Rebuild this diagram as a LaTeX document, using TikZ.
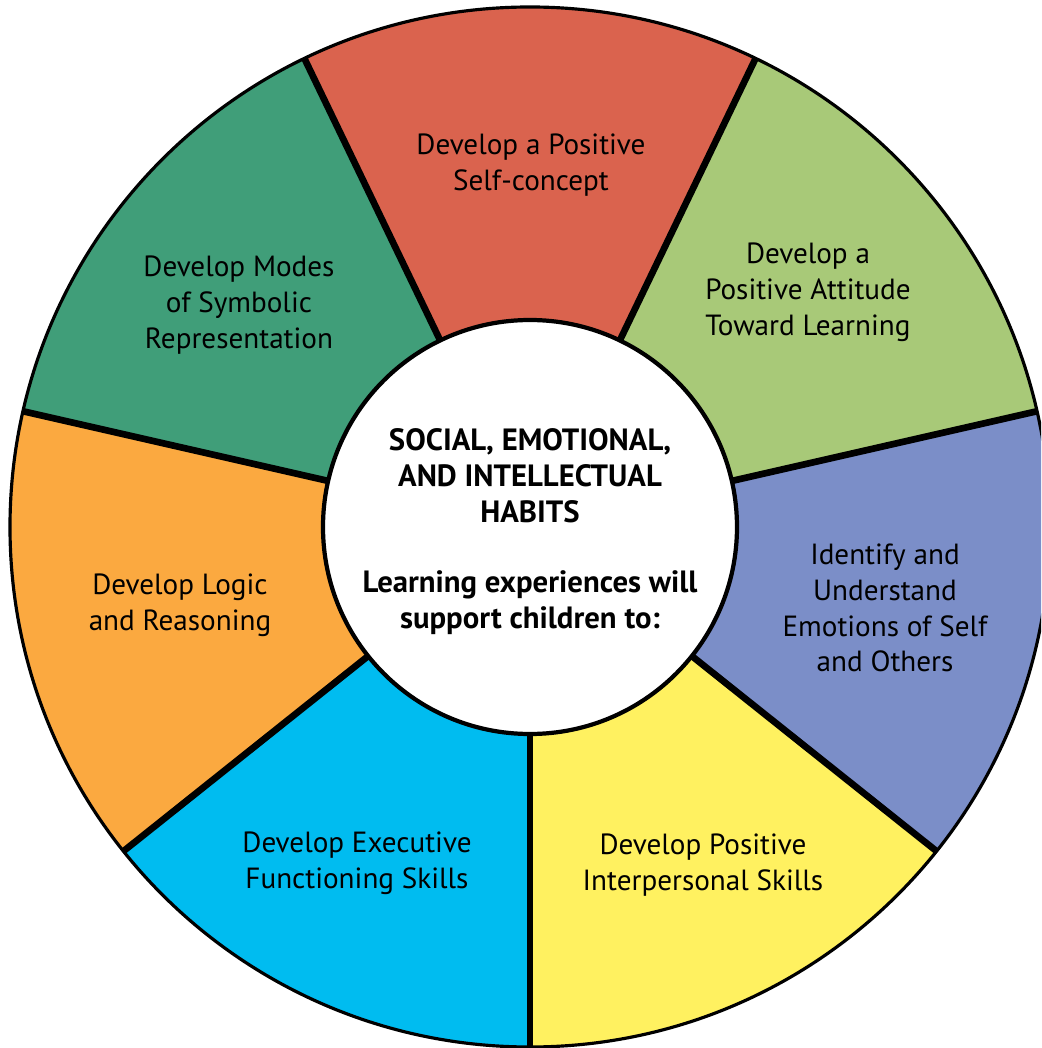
\documentclass[tikz,border=0pt]{standalone}
\usepackage{fontspec}
\setmainfont{PT Sans}
\usepackage{tikz}
\usepackage{xcolor}

\definecolor{wheelred}{RGB}{218,99,78}
\definecolor{wheeldkgreen}{RGB}{64,158,121}
\definecolor{wheelltgreen}{RGB}{168,201,120}
\definecolor{wheelorange}{RGB}{251,169,64}
\definecolor{wheelcyan}{RGB}{0,188,240}
\definecolor{wheelyellow}{RGB}{255,241,96}
\definecolor{wheelpurple}{RGB}{123,142,200}

\begin{document}
\begin{tikzpicture}[
    seglabel/.style={align=center,font=\fontsize{8.3}{10.2}\selectfont},
    hublabel/.style={align=center,font=\bfseries\fontsize{8.75}{10.2}\selectfont},
    divider/.style={line width=1.9pt},
  ]
  \useasboundingbox (-5.30,-5.21) rectangle (5.11,5.27);
  \clip (-5.30,-5.21) rectangle (5.11,5.27);

  % the seven segments, 360/7 degrees each
  \fill[wheelltgreen] (0,0) -- (12.86:5.2)  arc[start angle=12.86,end angle=64.29,radius=5.2] -- cycle;
  \fill[wheelred]     (0,0) -- (64.29:5.2)  arc[start angle=64.29,end angle=115.71,radius=5.2] -- cycle;
  \fill[wheeldkgreen] (0,0) -- (115.71:5.2) arc[start angle=115.71,end angle=167.14,radius=5.2] -- cycle;
  \fill[wheelorange]  (0,0) -- (167.14:5.2) arc[start angle=167.14,end angle=218.57,radius=5.2] -- cycle;
  \fill[wheelcyan]    (0,0) -- (218.57:5.2) arc[start angle=218.57,end angle=270,radius=5.2] -- cycle;
  \fill[wheelyellow]  (0,0) -- (270:5.2)    arc[start angle=270,end angle=321.43,radius=5.2] -- cycle;
  \fill[wheelpurple]  (0,0) -- (321.43:5.2) arc[start angle=321.43,end angle=372.86,radius=5.2] -- cycle;
  \draw[line width=0.9pt] (0,0) circle (5.2);

  \draw[divider] (12.86:2) -- (12.86:5.2);
  \draw[divider] (64.29:2) -- (64.29:5.2);
  \draw[divider] (115.71:2) -- (115.71:5.2);
  \draw[divider] (167.14:2) -- (167.14:5.2);
  \draw[divider] (218.57:2) -- (218.57:5.2);
  \draw[divider] (270:2) -- (270:5.2);
  \draw[divider] (321.43:2) -- (321.43:5.2);

  % hub
  \draw[line width=1.2pt,fill=white] (0,0) circle (2.07);
  \node (habits) [hublabel] at (0,0.51) {SOCIAL, EMOTIONAL,\\AND INTELLECTUAL\\HABITS};
  \node (support) [hublabel] at (0,-0.76) {Learning experiences will\\support children to:};

  \node (selfconcept) [seglabel] at (0.01,3.62) {Develop a Positive\\Self-concept};
  \node (attitude) [seglabel] at (2.78,2.35) {Develop a\\Positive Attitude\\Toward Learning};
  \node (emotions) [seglabel] at (3.55,-0.81) {Identify and\\Understand\\Emotions of Self\\and Others};
  \node (interpersonal) [seglabel] at (1.73,-3.38) {Develop Positive\\Interpersonal Skills};
  \node (executive) [seglabel] at (-1.73,-3.36) {Develop Executive\\Functioning Skills};
  \node (logic) [seglabel] at (-3.50,-0.78) {Develop Logic\\and Reasoning};
  \node (symbolic) [seglabel] at (-2.91,2.22) {Develop Modes\\of Symbolic\\Representation};
\end{tikzpicture}
\end{document}
